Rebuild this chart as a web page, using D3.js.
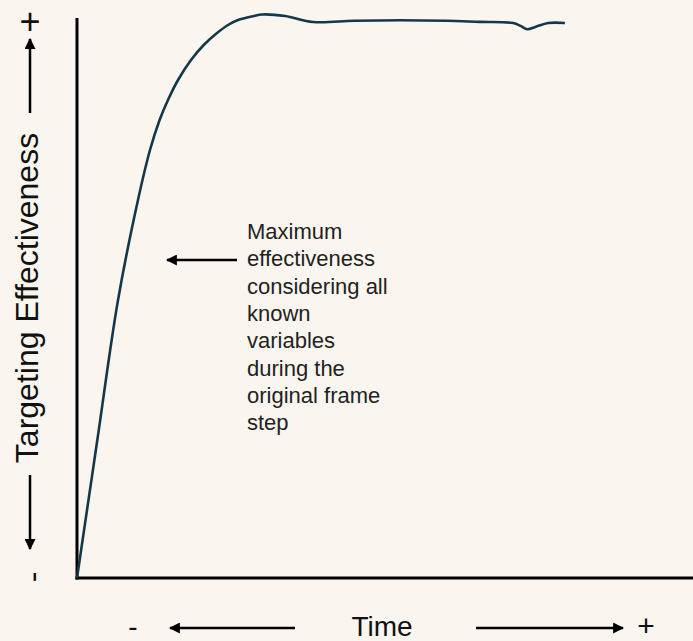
<!DOCTYPE html>
<html>
<head>
<meta charset="utf-8">
<script src="https://cdn.jsdelivr.net/npm/d3@7"></script>
<style>
  html, body { margin: 0; padding: 0; background: #faf6ef; }
  svg { display: block; font-family: "Liberation Sans", Arial, sans-serif; }
  .axis_line { stroke: #000; stroke-width: 3; }
  .arrow_line { stroke: #000; stroke-width: 2.5; }
  .note_text { fill: #222; font-size: 22px; }
</style>
</head>
<body>
<svg id="chart" width="693" height="641"></svg>
<script>
// 時間 (0-100) と効果 (0-100) の読み取り値
const time_values = [0, 3.3, 6.66, 9.9, 11.85, 13.41, 14.77, 16.4, 18.51, 20.57, 22.73, 24.51, 26.14, 28.73, 30.03, 33.77, 38.31, 45.0, 52.4, 60.0, 65.4, 70.8, 72.0, 73.1, 74.4, 76.5, 79.2];
const effect_values = [0, 24.64, 49.64, 67.5, 76.43, 81.79, 85.36, 88.93, 92.5, 95.18, 97.32, 98.75, 99.64, 100.36, 100.63, 100.36, 99.29, 99.5, 99.6, 99.5, 99.3, 99.1, 98.6, 98.0, 98.4, 99.1, 99.1];
const note_lines = ['Maximum', 'effectiveness', 'considering all', 'known', 'variables', 'during the', 'original frame', 'step'];
const x_label = 'Time';
const y_label = 'Targeting Effectiveness';

const svg = d3.select('#chart');
const plot_left = 77, plot_right = 693, plot_top = 18, plot_bottom = 578;

const x = d3.scaleLinear().domain([0, 100]).range([plot_left, plot_right]);
const y = d3.scaleLinear().domain([0, 100]).range([plot_bottom, plot_top]);

// 矢印マーカー
svg.append('defs')
    .append('marker')
    .attr('id', 'head')
    .attr('viewBox', '0 0 10 10')
    .attr('refX', 9)
    .attr('refY', 5)
    .attr('markerWidth', 4.4)
    .attr('markerHeight', 4.4)
    .attr('markerUnits', 'strokeWidth')
    .attr('orient', 'auto')
    .append('path')
    .attr('d', 'M0,0 L10,5 L0,10 Z')
    .attr('fill', '#000');

// 軸線
svg.append('line').attr('class', 'axis_line')
    .attr('x1', x(0)).attr('x2', x(0)).attr('y1', plot_top).attr('y2', plot_bottom + 1.5);
svg.append('line').attr('class', 'axis_line')
    .attr('x1', x(0) - 1.5).attr('x2', plot_right).attr('y1', plot_bottom).attr('y2', plot_bottom);

// 曲線
const points = time_values.map((t, i) => [t, effect_values[i]]);
svg.append('path')
    .datum(points)
    .attr('d', d3.line().x(d => x(d[0])).y(d => y(d[1])).curve(d3.curveCatmullRom.alpha(0.5)))
    .attr('fill', 'none')
    .attr('stroke', '#14384a')
    .attr('stroke-width', 2.6)
    .attr('stroke-linejoin', 'round');

// 注釈
svg.append('line').attr('class', 'arrow_line')
    .attr('x1', 237).attr('x2', 167).attr('y1', 260).attr('y2', 260)
    .attr('marker-end', 'url(#head)');
svg.append('text').attr('class', 'note_text')
    .selectAll('tspan')
    .data(note_lines)
    .join('tspan')
    .attr('x', 247)
    .attr('y', (d, i) => 239 + i * 27.3)
    .text(d => d);

// x軸ラベル
svg.append('text').text(x_label)
    .attr('x', 382).attr('y', 636)
    .attr('text-anchor', 'middle')
    .attr('font-size', 28).attr('fill', '#111');
svg.append('text').text('-')
    .attr('x', 133).attr('y', 636)
    .attr('text-anchor', 'middle')
    .attr('font-size', 28).attr('fill', '#111');
svg.append('text').text('+')
    .attr('x', 646).attr('y', 636)
    .attr('text-anchor', 'middle')
    .attr('font-size', 30).attr('fill', '#111');
svg.append('line').attr('class', 'arrow_line')
    .attr('x1', 295).attr('x2', 170).attr('y1', 628).attr('y2', 628)
    .attr('marker-end', 'url(#head)');
svg.append('line').attr('class', 'arrow_line')
    .attr('x1', 476).attr('x2', 623).attr('y1', 628).attr('y2', 628)
    .attr('marker-end', 'url(#head)');

// y軸ラベル
svg.append('text').text(y_label)
    .attr('transform', 'translate(38,298) rotate(-90)')
    .attr('text-anchor', 'middle')
    .attr('font-size', 32).attr('fill', '#111');
svg.append('text').text('+')
    .attr('x', 30).attr('y', 34)
    .attr('text-anchor', 'middle')
    .attr('font-size', 36).attr('fill', '#111');
svg.append('text').text('-')
    .attr('transform', 'translate(43,577) rotate(-90)')
    .attr('text-anchor', 'middle')
    .attr('font-size', 32).attr('fill', '#111');
svg.append('line').attr('class', 'arrow_line')
    .attr('x1', 30).attr('x2', 30).attr('y1', 113).attr('y2', 39)
    .attr('marker-end', 'url(#head)');
svg.append('line').attr('class', 'arrow_line')
    .attr('x1', 30).attr('x2', 30).attr('y1', 475).attr('y2', 549)
    .attr('marker-end', 'url(#head)');
</script>
</body>
</html>
